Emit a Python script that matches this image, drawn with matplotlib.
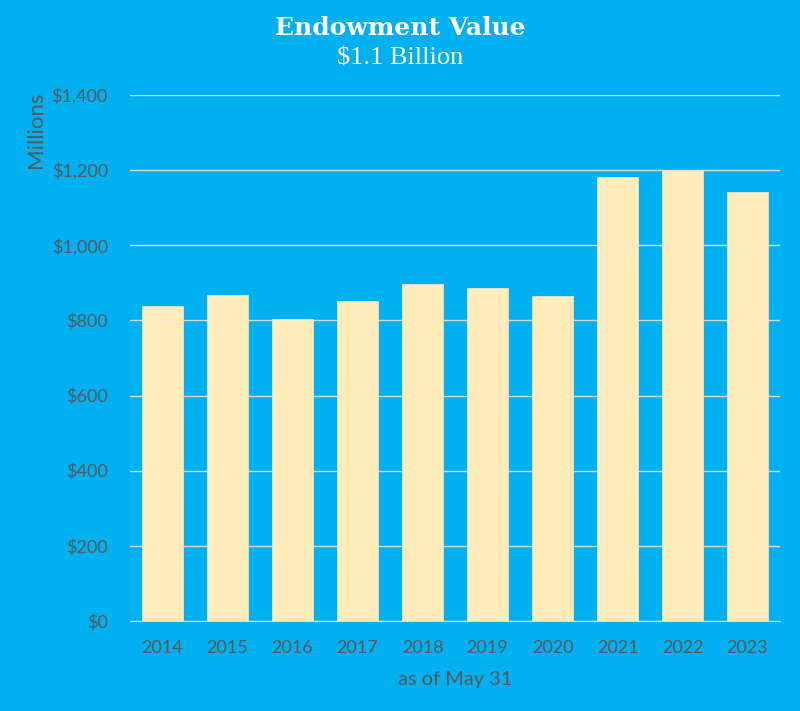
import matplotlib.pyplot as plt
from matplotlib.ticker import FuncFormatter

years = ['2014', '2015', '2016', '2017', '2018', '2019', '2020', '2021', '2022', '2023']
values = [838, 867, 803, 852, 896, 887, 865, 1183, 1200, 1141]
yticks = [0, 200, 400, 600, 800, 1000, 1200, 1400]

bg = '#00B0F0'
bar_col = '#FFECB8'
txt_col = '#595959'

plt.rcParams['font.family'] = ['Lato', 'DejaVu Sans']

fig = plt.figure(figsize=(8, 7.11), dpi=100)
fig.patch.set_facecolor(bg)
ax = fig.add_axes([0.1625, 0.1266, 0.8125, 0.7398])
ax.set_facecolor(bg)

ax.bar(years, values, width=0.62, color=bar_col, edgecolor='#E8E4D0', linewidth=0.6, zorder=3)

ax.set_ylim(0, 1400)
ax.set_xlim(-0.5, len(years) - 0.5)
ax.set_yticks(yticks)
ax.yaxis.set_major_formatter(FuncFormatter(lambda v, p: '${:,.0f}'.format(v)))
ax.grid(axis='y', color='#D9D9D9', linewidth=1, zorder=0)
for s in ['top', 'right', 'left']:
    ax.spines[s].set_visible(False)
ax.spines['bottom'].set_color('#D9D9D9')
ax.tick_params(axis='both', length=0, labelsize=13, colors=txt_col)
ax.tick_params(axis='x', pad=14)
ax.tick_params(axis='y', pad=16)

fig.text(0.5, 1 - 28 / 711, 'Endowment Value', ha='center', va='center', color='white',
         fontsize=18, fontweight='bold', family='DejaVu Serif')
fig.text(0.5, 1 - 58 / 711, '$1.1 Billion', ha='center', va='center', color='white',
         fontsize=19, family='Liberation Serif')
fig.text(36 / 800, 1 - 130 / 711, 'Millions', rotation=90, ha='center', va='center',
         color=txt_col, fontsize=16)
fig.text(455 / 800, 1 - 679 / 711, 'as of May 31', ha='center', va='center',
         color=txt_col, fontsize=14.4)

fig.savefig('out.png', dpi=100, facecolor=bg)
